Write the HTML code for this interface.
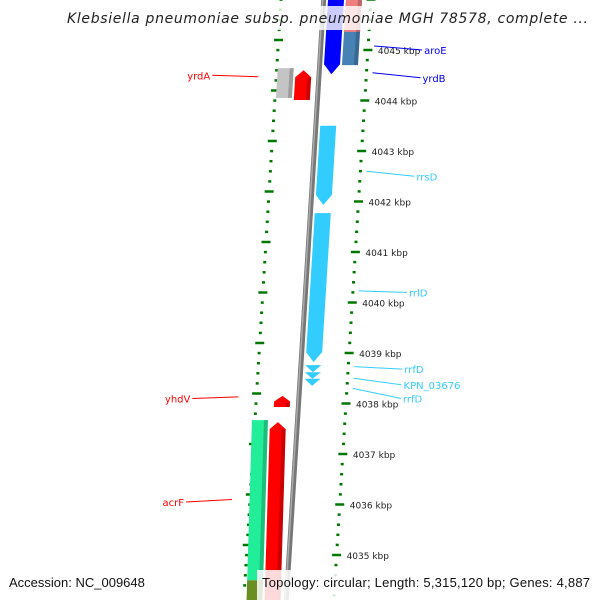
<!DOCTYPE html>
<html><head><meta charset="utf-8"><style>
body{margin:0;background:#fff}
svg{display:block;font-family:"Liberation Sans","DejaVu Sans",sans-serif}
</style></head><body>
<svg id="c" width="600" height="600" viewBox="0 0 600 600">
<g id="ticks"></g>
<line x1="324" y1="-5" x2="286" y2="605" stroke="#777" stroke-width="5"/>
<line x1="323" y1="-5" x2="285" y2="605" stroke="#aaa" stroke-width="1.5"/>
<g id="genes"></g>
<g id="labels"></g>
<rect x="60" y="6" width="535" height="24" fill="#fff" opacity="0.8"/>
<text x="67" y="23" font-size="14" font-style="italic" textLength="521" fill="#222" style="font-family:'DejaVu Sans',sans-serif">Klebsiella pneumoniae subsp. pneumoniae MGH 78578, complete ...</text>
<text x="9" y="587" font-size="13" fill="#111">Accession: NC_009648</text>
<rect x="257" y="570" width="343" height="30" fill="#fff" opacity="0.85"/>
<text x="262" y="587" font-size="13" textLength="328" fill="#111">Topology: circular; Length: 5,315,120 bp; Genes: 4,887</text>
</svg>
<script>
// data
const kbpTicks=[4045,4044,4043,4042,4041,4040,4039,4038,4037,4036,4035];
const geneNames=["aroE","steel","pink","yrdA","grayA","rrsD","rrlD","rrf1","kpn","rrf2","yhdV","acrF","olive","redL"];
const geneStart=[4046.2,4046.2,4046.2,4044.60,4044.64,4043.50,4041.77,4038.76,4038.62,4038.49,4038.15,4037.67,4034.50,4037.63];
const geneEnd=[4044.52,4044.70,4045.36,4044.01,4044.05,4041.93,4038.82,4038.62,4038.49,4038.35,4037.93,4034.50,4033.8,4033.8];
const geneLane=[12,30,30,-16,-34,12,12,12,12,12,-17,-38,-38,-20];
const geneDir=[-1,0,0,1,0,-1,-1,-2,-2,-2,1,0,0,1];
const geneColor=["#0000ff","#4682b4","#f08080","#ff0000","#c4c4c4","#33ccff","#33ccff","#33ccff","#33ccff","#33ccff","#ff0000","#22ee99","#6b8e23","#ff0000"];
const labelText=["aroE","yrdB","rrsD","rrlD","rrfD","KPN_03676","rrfD","yrdA","yhdV","acrF"];
const labelColor=["#0000ee","#0000ee","#33ccff","#33ccff","#33ccff","#33ccff","#33ccff","#ff0000","#ff0000","#ff0000"];
const labelSide=[1,1,1,1,1,1,1,-1,-1,-1];
const labelKbp=[4045.08,4044.55,4042.6,4040.23,4038.73,4038.5,4038.3,4044.47,4038.13,4036.1];
const labelTxtKbp=[4045.0,4044.45,4042.5,4040.2,4038.68,4038.37,4038.1,4044.5,4038.1,4036.05];

const NS="http://www.w3.org/2000/svg";
const yOf=k=>50+(4045-k)*50.5;
const bb=y=>324-0.062*y;
const rx=y=>371-0.062*y;
const lx=y=>281-0.062*y;
function mk(tag,attrs,parent){const e=document.createElementNS(NS,tag);for(const a in attrs)e.setAttribute(a,attrs[a]);parent.appendChild(e);return e;}
const T=document.getElementById('ticks'),G=document.getElementById('genes'),L=document.getElementById('labels');

for(let i=0;i<=60;i++){
  const k=4046.2-i*0.2;const y=yOf(k);
  if(y<-5||y>605)continue;
  const major=Math.abs(k-Math.round(k))<0.01;
  const w=major?9:3;
  const t=mk('line',{x1:rx(y)-w/2,y1:y,x2:rx(y)+w/2,y2:y,stroke:'#007700','stroke-width':2.5},T);
  
  
  const y2=y-10;
  const t2=mk('line',{x1:lx(y2)-w/2,y1:y2,x2:lx(y2)+w/2,y2:y2,stroke:'#007700','stroke-width':2.5},T);
  
  
}
kbpTicks.forEach(k=>{const y=yOf(k);
  const t=mk('text',{x:rx(y)+10,y:y+4,'font-size':9,fill:'#222',style:"font-family:'DejaVu Sans',sans-serif"},T);t.textContent=k+' kbp';
  
  
});

geneNames.forEach((n,i)=>{
  const y1=yOf(geneStart[i]),y2=yOf(geneEnd[i]);const off=geneLane[i],hw=8,d=geneDir[i];
  const lower=y1>410;
  const c=lower?(y=>bb(420)+off-0.03*(y-420)):(y=>bb(y)+off);
  let pts;
  if(d===-1){const h=Math.min(10,(y2-y1)/2);pts=[[c(y1)-hw,y1],[c(y1)+hw,y1],[c(y2-h)+hw,y2-h],[c(y2),y2],[c(y2-h)-hw,y2-h]];}
  else if(d===1){const h=Math.min(7,(y2-y1)/2);pts=[[c(y1),y1],[c(y1+h)+hw,y1+h],[c(y2)+hw,y2],[c(y2)-hw,y2],[c(y1+h)-hw,y1+h]];}
  else if(d===-2){pts=[[c(y1)-hw,y1],[c(y1)+hw,y1],[c(y2),y2]];}
  else pts=[[c(y1)-hw,y1],[c(y1)+hw,y1],[c(y2)+hw,y2],[c(y2)-hw,y2]];
  const p=mk('polygon',{points:pts.map(q=>q.join(',')).join(' '),fill:geneColor[i]},G);
  
  
  if(d>=0&&d!==-2){const s=mk('polygon',{points:[[c(y1+(d?7:0))+hw-4,y1+(d?7:0)],[c(y1+(d?7:0))+hw,y1+(d?7:0)],[c(y2)+hw,y2],[c(y2)+hw-4,y2]].map(q=>q.join(',')).join(' '),fill:'#000',opacity:0.2},G);
  
  }
});

labelText.forEach((t,i)=>{
  const ya=yOf(labelKbp[i]),yt=yOf(labelTxtKbp[i]);
  let ax,tx;
  if(labelSide[i]>0){ax=rx(ya)+6;tx=ax+50;}else{ax=lx(ya)-18;tx=ax-48;}
  const ln=mk('line',{x1:ax,y1:ya,x2:tx+(labelSide[i]>0?-2:2),y2:yt,stroke:labelColor[i],'stroke-width':1},L);
  
  
  const tt=mk('text',{x:tx,y:yt+4,'font-size':10,fill:labelColor[i],'text-anchor':labelSide[i]>0?'start':'end',style:"font-family:'DejaVu Sans',sans-serif"},L);
  tt.textContent=t;
  
  
});
</script>
</body></html>
